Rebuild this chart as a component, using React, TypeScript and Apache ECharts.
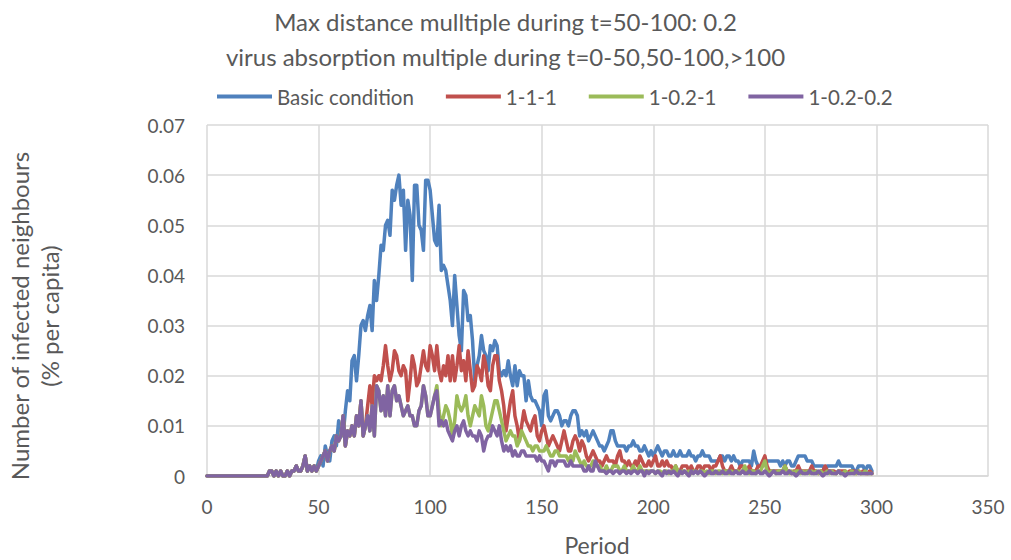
import React, { useEffect, useRef } from "react";
import * as echarts from "echarts";

const titleLine1 = "Max distance mulltiple during t=50-100: 0.2";
const titleLine2 = "virus absorption multiple during t=0-50,50-100,>100";
const seriesNames = ["Basic condition", "1-1-1", "1-0.2-1", "1-0.2-0.2"];
const seriesColors = ["#4F81BD", "#C0504D", "#9BBB59", "#8064A2"];
const xAxisTitle = "Period";
const yAxisTitle = "Number of infected neighbours\n(% per capita)";

// periods 0..49, identical for every run
const sharedStart = [
  0, 0, 0, 0, 0, 0, 0, 0, 0, 0,
  0, 0, 0, 0, 0, 0, 0, 0, 0, 0,
  0, 0, 0, 0, 0, 0, 0, 0, 0.001, 0.001,
  0, 0.001, 0, 0.001, 0, 0, 0.001, 0, 0.001, 0.001,
  0.002, 0.001, 0.001, 0.002, 0.004, 0.001, 0.002, 0.001, 0.002, 0.001,
];

// periods 50..298
const basicTail = [
  0.003, 0.004, 0.002, 0.006, 0.004, 0.003, 0.007, 0.008, 0.006, 0.011,
  0.009, 0.008, 0.013, 0.017, 0.015, 0.023, 0.024, 0.019, 0.024, 0.030,
  0.031, 0.029, 0.032, 0.034, 0.029, 0.039, 0.035, 0.040, 0.046, 0.045,
  0.050, 0.051, 0.048, 0.057, 0.055, 0.058, 0.060, 0.054, 0.057, 0.045,
  0.055, 0.052, 0.039, 0.058, 0.058, 0.050, 0.049, 0.045, 0.059, 0.059,
  0.057, 0.052, 0.047, 0.046, 0.054, 0.041, 0.042, 0.041, 0.038, 0.035,
  0.030, 0.040, 0.034, 0.028, 0.025, 0.037, 0.036, 0.031, 0.032, 0.027,
  0.019, 0.022, 0.024, 0.028, 0.025, 0.024, 0.021, 0.026, 0.025, 0.027,
  0.026, 0.021, 0.020, 0.021, 0.020, 0.023, 0.020, 0.018, 0.022, 0.018,
  0.021, 0.020, 0.020, 0.015, 0.019, 0.016, 0.015, 0.015, 0.014, 0.013,
  0.010, 0.016, 0.017, 0.012, 0.011, 0.012, 0.013, 0.013, 0.012, 0.010,
  0.011, 0.011, 0.010, 0.012, 0.013, 0.013, 0.012, 0.008, 0.009, 0.008,
  0.009, 0.007, 0.008, 0.009, 0.008, 0.007, 0.006, 0.006, 0.005, 0.006,
  0.007, 0.009, 0.009, 0.007, 0.006, 0.006, 0.006, 0.006, 0.005, 0.006,
  0.006, 0.007, 0.006, 0.006, 0.005, 0.005, 0.006, 0.005, 0.004, 0.005,
  0.004, 0.005, 0.006, 0.005, 0.004, 0.005, 0.005, 0.004, 0.004, 0.005,
  0.004, 0.004, 0.005, 0.004, 0.004, 0.004, 0.005, 0.004, 0.004, 0.003,
  0.004, 0.004, 0.005, 0.004, 0.004, 0.004, 0.003, 0.003, 0.003, 0.003,
  0.004, 0.004, 0.003, 0.004, 0.004, 0.003, 0.004, 0.003, 0.003, 0.002,
  0.003, 0.003, 0.003, 0.003, 0.002, 0.005, 0.003, 0.002, 0.002, 0.002,
  0.003, 0.003, 0.003, 0.003, 0.003, 0.003, 0.003, 0.002, 0.003, 0.002,
  0.003, 0.003, 0.002, 0.002, 0.003, 0.004, 0.004, 0.004, 0.004, 0.003,
  0.003, 0.003, 0.002, 0.002, 0.002, 0.002, 0.002, 0.001, 0.002, 0.002,
  0.002, 0.002, 0.002, 0.003, 0.002, 0.002, 0.002, 0.002, 0.002, 0.002,
  0.001, 0.001, 0.002, 0.002, 0.002, 0.001, 0.002, 0.002, 0.001,
];

const run111Tail = [
  0.002, 0.003, 0.004, 0.005, 0.003, 0.005, 0.006, 0.005, 0.008, 0.007,
  0.008, 0.012, 0.006, 0.009, 0.008, 0.010, 0.008, 0.012, 0.010, 0.015,
  0.008, 0.010, 0.014, 0.018, 0.014, 0.020, 0.019, 0.020, 0.019, 0.022,
  0.026, 0.022, 0.019, 0.021, 0.025, 0.024, 0.021, 0.020, 0.022, 0.021,
  0.015, 0.019, 0.024, 0.022, 0.018, 0.019, 0.022, 0.025, 0.022, 0.021,
  0.026, 0.024, 0.021, 0.026, 0.021, 0.019, 0.022, 0.020, 0.024, 0.019,
  0.024, 0.019, 0.022, 0.026, 0.021, 0.023, 0.019, 0.025, 0.021, 0.017,
  0.018, 0.022, 0.021, 0.019, 0.024, 0.022, 0.018, 0.017, 0.022, 0.024,
  0.024, 0.019, 0.017, 0.014, 0.009, 0.012, 0.015, 0.017, 0.012, 0.010,
  0.007, 0.010, 0.013, 0.011, 0.010, 0.009, 0.011, 0.012, 0.008, 0.007,
  0.009, 0.010, 0.008, 0.006, 0.007, 0.008, 0.007, 0.006, 0.005, 0.007,
  0.009, 0.007, 0.005, 0.005, 0.007, 0.008, 0.007, 0.005, 0.007, 0.006,
  0.004, 0.003, 0.004, 0.005, 0.004, 0.003, 0.003, 0.002, 0.003, 0.004,
  0.003, 0.003, 0.003, 0.002, 0.004, 0.005, 0.003, 0.003, 0.002, 0.003,
  0.002, 0.002, 0.003, 0.002, 0.004, 0.003, 0.002, 0.002, 0.003, 0.002,
  0.003, 0.004, 0.002, 0.002, 0.003, 0.002, 0.003, 0.002, 0.002, 0.001,
  0.002, 0.001, 0.001, 0.002, 0.002, 0.002, 0.001, 0.002, 0.001, 0.001,
  0.002, 0.002, 0.001, 0.002, 0.002, 0.002, 0.001, 0.002, 0.002, 0.003,
  0.004, 0.002, 0.001, 0.001, 0.001, 0.002, 0.001, 0.001, 0.001, 0.002,
  0.002, 0.001, 0.001, 0.002, 0.001, 0.001, 0.001, 0.002, 0.002, 0.003,
  0.004, 0.002, 0.001, 0.001, 0.001, 0.001, 0.001, 0.001, 0.001, 0.002,
  0.001, 0.001, 0.0005, 0.001, 0.001, 0.002, 0.001, 0.001, 0.001, 0.001,
  0.001, 0.002, 0.001, 0.001, 0.0005, 0.001, 0.001, 0.002, 0.001, 0.001,
  0.001, 0.001, 0.0005, 0.001, 0.001, 0.001, 0.001, 0.0005, 0.001, 0.001,
  0.001, 0.0005, 0.001, 0.0005, 0.001, 0.0005, 0.0005, 0.001, 0.0005,
];

const run1021Tail = [
  0.002, 0.003, 0.004, 0.005, 0.003, 0.005, 0.006, 0.005, 0.008, 0.007,
  0.008, 0.012, 0.006, 0.009, 0.008, 0.010, 0.008, 0.012, 0.010, 0.015,
  0.008, 0.010, 0.012, 0.009, 0.014, 0.008, 0.018, 0.017, 0.013, 0.016,
  0.012, 0.018, 0.012, 0.017, 0.018, 0.015, 0.016, 0.014, 0.012, 0.013,
  0.014, 0.012, 0.012, 0.010, 0.010, 0.013, 0.014, 0.018, 0.016, 0.012,
  0.012, 0.014, 0.016, 0.018, 0.013, 0.010, 0.012, 0.014, 0.013, 0.011,
  0.008, 0.011, 0.016, 0.014, 0.013, 0.014, 0.016, 0.012, 0.010, 0.012,
  0.014, 0.013, 0.012, 0.016, 0.014, 0.010, 0.009, 0.011, 0.013, 0.015,
  0.015, 0.013, 0.011, 0.009, 0.007, 0.008, 0.009, 0.008, 0.008, 0.006,
  0.007, 0.009, 0.008, 0.007, 0.006, 0.006, 0.005, 0.006, 0.006, 0.005,
  0.005, 0.005, 0.006, 0.005, 0.004, 0.004, 0.005, 0.005, 0.004, 0.004,
  0.004, 0.004, 0.003, 0.004, 0.003, 0.005, 0.004, 0.003, 0.002, 0.003,
  0.002, 0.002, 0.002, 0.003, 0.002, 0.002, 0.002, 0.001, 0.001, 0.002,
  0.001, 0.001, 0.002, 0.002, 0.002, 0.001, 0.001, 0.002, 0.001, 0.001,
  0.001, 0.002, 0.001, 0.001, 0.002, 0.001, 0.001, 0.001, 0.001, 0.001,
  0.001, 0.0005, 0.001, 0.001, 0.0005, 0.001, 0.001, 0.0005, 0.001, 0.001,
  0.002, 0.001, 0.0005, 0.001, 0.001, 0.0005, 0.001, 0.0005, 0.001, 0.001,
  0.0005, 0.001, 0.001, 0.0005, 0.001, 0.0005, 0.001, 0.001, 0.0005, 0.001,
  0.001, 0.0005, 0.001, 0.001, 0.0005, 0.001, 0.0005, 0.001, 0.001, 0.0005,
  0.001, 0.002, 0.001, 0.0005, 0.001, 0.001, 0.0005, 0.001, 0.001, 0.002,
  0.003, 0.001, 0.0005, 0.001, 0.001, 0.0005, 0.001, 0.001, 0.001, 0.002,
  0.001, 0.0005, 0.001, 0.0005, 0.001, 0.001, 0.0005, 0.001, 0.0005, 0.001,
  0.0005, 0.001, 0.0005, 0.001, 0.0005, 0.001, 0.0005, 0.0005, 0.001, 0.0005,
  0.001, 0.0005, 0.0005, 0.001, 0.0005, 0.0005, 0.001, 0.0005, 0.0005, 0.001,
  0.0005, 0.0005, 0.001, 0.0005, 0.0005, 0.001, 0.0005, 0.0005, 0.0005,
];

const run10202Tail = [
  0.002, 0.003, 0.004, 0.005, 0.003, 0.005, 0.006, 0.005, 0.008, 0.007,
  0.008, 0.012, 0.006, 0.009, 0.008, 0.010, 0.008, 0.012, 0.010, 0.015,
  0.008, 0.010, 0.012, 0.009, 0.014, 0.008, 0.018, 0.017, 0.013, 0.016,
  0.012, 0.018, 0.012, 0.017, 0.018, 0.015, 0.016, 0.014, 0.012, 0.013,
  0.014, 0.012, 0.012, 0.010, 0.010, 0.013, 0.014, 0.018, 0.016, 0.012,
  0.012, 0.014, 0.016, 0.017, 0.010, 0.011, 0.010, 0.011, 0.009, 0.008,
  0.007, 0.009, 0.010, 0.008, 0.010, 0.011, 0.009, 0.008, 0.009, 0.008,
  0.008, 0.007, 0.009, 0.008, 0.005, 0.007, 0.008, 0.008, 0.010, 0.009,
  0.008, 0.010, 0.007, 0.005, 0.006, 0.005, 0.006, 0.004, 0.005, 0.004,
  0.004, 0.005, 0.005, 0.004, 0.004, 0.004, 0.004, 0.004, 0.003, 0.004,
  0.003, 0.003, 0.002, 0.001, 0.003, 0.003, 0.002, 0.003, 0.003, 0.003,
  0.003, 0.002, 0.002, 0.003, 0.002, 0.002, 0.002, 0.002, 0.002, 0.001,
  0.001, 0.002, 0.001, 0.001, 0.003, 0.002, 0.001, 0.001, 0.001, 0.0005,
  0.001, 0.001, 0.0005, 0.001, 0.001, 0.0005, 0.001, 0.001, 0.0005, 0.001,
  0.0005, 0.001, 0.001, 0.0005, 0.001, 0.001, 0, 0.001, 0.0005, 0.001,
  0.001, 0.0005, 0.001, 0.0005, 0, 0.001, 0.0005, 0.001, 0.0005, 0.001,
  0.0005, 0, 0.001, 0.0005, 0.001, 0.0005, 0, 0.001, 0.0005, 0.001,
  0.0005, 0.001, 0.0005, 0, 0.0005, 0.001, 0.0005, 0.0005, 0.001, 0.0005,
  0.0005, 0.001, 0.0005, 0.0005, 0.001, 0.0005, 0.0005, 0.001, 0.0005, 0.0005,
  0.001, 0.0005, 0.0005, 0.001, 0.0005, 0.0005, 0.0005, 0.001, 0.0005, 0.0005,
  0.001, 0.0005, 0, 0.0005, 0.001, 0.0005, 0.0005, 0.0005, 0.001, 0.0005,
  0.0005, 0.001, 0.0005, 0.0005, 0, 0.0005, 0.001, 0.0005, 0.0005, 0.0005,
  0.001, 0.0005, 0.0005, 0.0005, 0.001, 0.0005, 0, 0.0005, 0.0005, 0.001,
  0.0005, 0.0005, 0.0005, 0.001, 0.0005, 0.0005, 0, 0.0005, 0.0005, 0.0005,
  0.0005, 0.001, 0.0005, 0.0005, 0.0005, 0.0005, 0.0005, 0.0005, 0.0005,
];

const basicCondition = sharedStart.concat(basicTail);
const run111 = sharedStart.concat(run111Tail);
const run1021 = sharedStart.concat(run1021Tail);
const run10202 = sharedStart.concat(run10202Tail);
const seriesValues = [basicCondition, run111, run1021, run10202];

const FONT = "Lato";
const TEXT = "#595959";

export default function App() {
  const ref = useRef<HTMLDivElement>(null);
  useEffect(() => {
    document.body.style.margin = "0";
    const chart = echarts.init(ref.current!, null, { renderer: "svg" });
    chart.setOption({
      animation: false,
      backgroundColor: "#ffffff",
      textStyle: { fontFamily: FONT, color: TEXT },
      title: {
        text: titleLine1 + "\n" + titleLine2,
        left: "center",
        top: -1,
        textStyle: {
          fontFamily: FONT,
          fontSize: 24,
          fontWeight: "normal",
          color: TEXT,
          lineHeight: 35,
        },
      },
      legend: {
        top: 81,
        left: 212,
        icon: "rect",
        itemWidth: 55,
        itemHeight: 4,
        itemGap: 32,
        textStyle: { fontFamily: FONT, fontSize: 20.5, color: TEXT },
        data: seriesNames,
      },
      grid: { left: 207, right: 23, top: 125, bottom: 84 },
      xAxis: {
        type: "value",
        min: 0,
        max: 350,
        interval: 50,
        axisLine: { show: true, lineStyle: { color: "#D9D9D9", width: 1.5 } },
        axisTick: { show: false },
        axisLabel: { color: TEXT, fontFamily: FONT, fontSize: 19, margin: 21 },
        splitLine: { show: true, lineStyle: { color: "#D9D9D9", width: 1.5 } },
      },
      yAxis: {
        type: "value",
        min: 0,
        max: 0.07,
        interval: 0.01,
        axisLine: { show: false },
        axisTick: { show: false },
        axisLabel: {
          color: TEXT,
          fontFamily: FONT,
          fontSize: 19,
          margin: 22,
          formatter: (v: number) => (v === 0 ? "0" : v.toFixed(2)),
        },
        splitLine: { show: true, lineStyle: { color: "#D9D9D9", width: 1.5 } },
      },
      graphic: [
        {
          type: "text",
          x: 34,
          y: 316,
          rotation: Math.PI / 2,
          style: {
            text: yAxisTitle,
            fontFamily: FONT,
            fontSize: 24,
            fill: TEXT,
            align: "center",
            verticalAlign: "middle",
            lineHeight: 30,
          },
        },
        {
          type: "text",
          x: 597,
          y: 545,
          style: {
            text: xAxisTitle,
            fontFamily: FONT,
            fontSize: 23,
            fill: TEXT,
            align: "center",
            verticalAlign: "middle",
          },
        },
      ],
      series: seriesNames.map((name, i) => ({
        name,
        type: "line",
        showSymbol: false,
        symbol: "none",
        color: seriesColors[i],
        lineStyle: { width: 3.5, color: seriesColors[i], cap: "round", join: "round" },
        data: seriesValues[i].map((v, p) => [p, v]),
      })),
    });
    return () => chart.dispose();
  }, []);
  return <div ref={ref} style={{ width: 1011, height: 560 }} />;
}
